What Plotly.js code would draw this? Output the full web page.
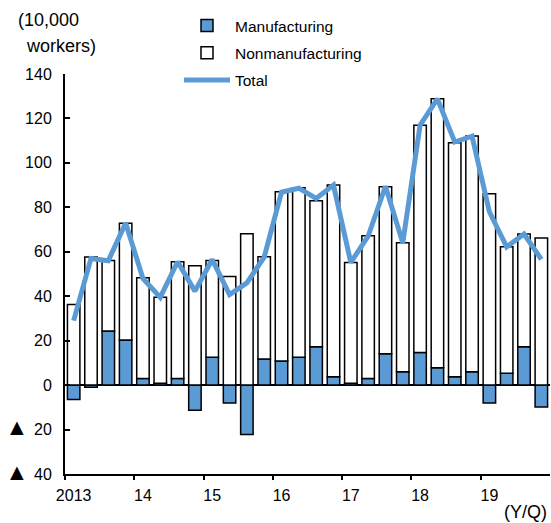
<!DOCTYPE html>
<html>
<head>
<meta charset="utf-8">
<script src="https://cdn.plot.ly/plotly-3.0.1.min.js"></script>
<style>html,body{margin:0;padding:0;background:#fff;}#chart{width:551px;height:523px;}</style>
</head>
<body>
<div id="chart"></div>
<script>
// Quarters 2013Q1 .. 2019Q4
const quarterIndex = [0,1,2,3,4,5,6,7,8,9,10,11,12,13,14,15,16,17,18,19,20,21,22,23,24,25,26,27];
const manufacturing = [-6.5,-1,24.3,20.3,3,0.8,3,-11.3,12.5,-8,-22.2,11.7,10.9,12.5,17.3,3.8,0.8,3,14.1,6,14.7,7.8,3.8,6,-8,5.3,17.3,-9.8];
const nonmanufacturing = [36.3,57.6,31.8,52.5,45.3,38.7,52.5,53.7,43.6,48.9,68.1,46.1,76.1,76.3,65.7,86.2,54.4,64.2,75.2,58.1,102.2,121.1,105.3,106.1,86.1,57,50.7,66.2];
const total = [29,57,56,72.9,48,39.5,55.5,42.3,56.5,40.7,46,57.6,86.8,88.6,84,90,55.2,67,89.5,64,117,128.8,109.4,112,78,62.2,68,56.6];
const yearLabelPos = [0,4,8,12,16,20,24];
const yearLabels = ['2013','14','15','16','17','18','19'];
const yearBoundaries = [-0.5,3.5,7.5,11.5,15.5,19.5,23.5];
const yTickVals = [140,120,100,80,60,40,20,0,-20,-40];
const tri = '<span style="font-size:23px">\u25B2</span>';
const yTickText = ['140','120','100','80','60','40','20','0', tri + '\u00a0\u200a20', tri + '\u00a0\u200a40'];

const blue = '#5B9BD5';
const fam = 'Liberation Sans, Arial, sans-serif';
const tickFont = {family: fam, size: 16, color: '#000'};
const legendFont = {family: fam, size: 15.5, color: '#000'};
const noteFont = {family: fam, size: 18, color: '#000'};

// pixel -> paper helpers for the fixed plot area (left 65, right 550, top 74, bottom 474)
const L = 65, R = 550, T = 74, B = 474;
const px = v => (v - L) / (R - L);
const py = v => (B - v) / (B - T);

const traces = [
  {type:'bar', name:'Manufacturing', x:quarterIndex, y:manufacturing, legendgroup:'a',
   marker:{color:blue, line:{color:'#000', width:1.5}}, width:0.72},
  {type:'bar', name:'Nonmanufacturing', x:quarterIndex, y:nonmanufacturing, legendgroup:'b',
   marker:{color:'#fff', line:{color:'#000', width:1.5}}, width:0.72},
  {type:'scatter', mode:'lines', name:'Total', x:quarterIndex, y:total, legendgroup:'c',
   xaxis:'x2', line:{color:blue, width:5}}
];

const layout = {
  width:551, height:523,
  margin:{l:L, r:551-R, t:T, b:523-B, autoexpand:false},
  paper_bgcolor:'#fff', plot_bgcolor:'#fff',
  font:tickFont,
  barmode:'relative',
  showlegend:true,
  legend:{x:px(179), y:py(9), xanchor:'left', yanchor:'top',
    traceorder:'grouped', tracegroupgap:4, itemwidth:46, font:legendFont, bgcolor:'rgba(0,0,0,0)'},
  xaxis:{range:[-0.5,27.5], tickmode:'array', tickvals:yearLabelPos, ticktext:yearLabels,
    ticks:'', showline:true, linecolor:'#000', linewidth:2, showgrid:false, zeroline:false,
    ticklabelstandoff:6, tickfont:tickFont},
  xaxis2:{range:[-0.5,27.5], overlaying:'x', anchor:'y', side:'bottom', tickmode:'array',
    tickvals:yearBoundaries, ticks:'outside', ticklen:5, tickwidth:2, tickcolor:'#000',
    showticklabels:false, showline:false, showgrid:false, zeroline:false},
  yaxis:{range:[-40,140], tickmode:'array', tickvals:yTickVals, ticktext:yTickText,
    ticks:'inside', ticklen:5, tickwidth:2, tickcolor:'#000', showline:true, linecolor:'#000', linewidth:2,
    showgrid:false, zeroline:true, zerolinecolor:'#000', zerolinewidth:1.5,
    ticklabelstandoff:8, tickfont:tickFont},
  annotations:[
    {xref:'paper', yref:'paper', x:px(81), xanchor:'right', y:py(20), yanchor:'middle', text:'(10,000', showarrow:false, font:noteFont},
    {xref:'paper', yref:'paper', x:px(98), xanchor:'right', y:py(46), yanchor:'middle', text:'workers)', showarrow:false, font:noteFont},
    {xref:'paper', yref:'paper', x:px(549), xanchor:'right', y:py(512), yanchor:'middle', text:'(Y/Q)', showarrow:false, font:noteFont}
  ]
};

Plotly.newPlot('chart', traces, layout, {displayModeBar:false, staticPlot:true});
</script>
</body>
</html>
